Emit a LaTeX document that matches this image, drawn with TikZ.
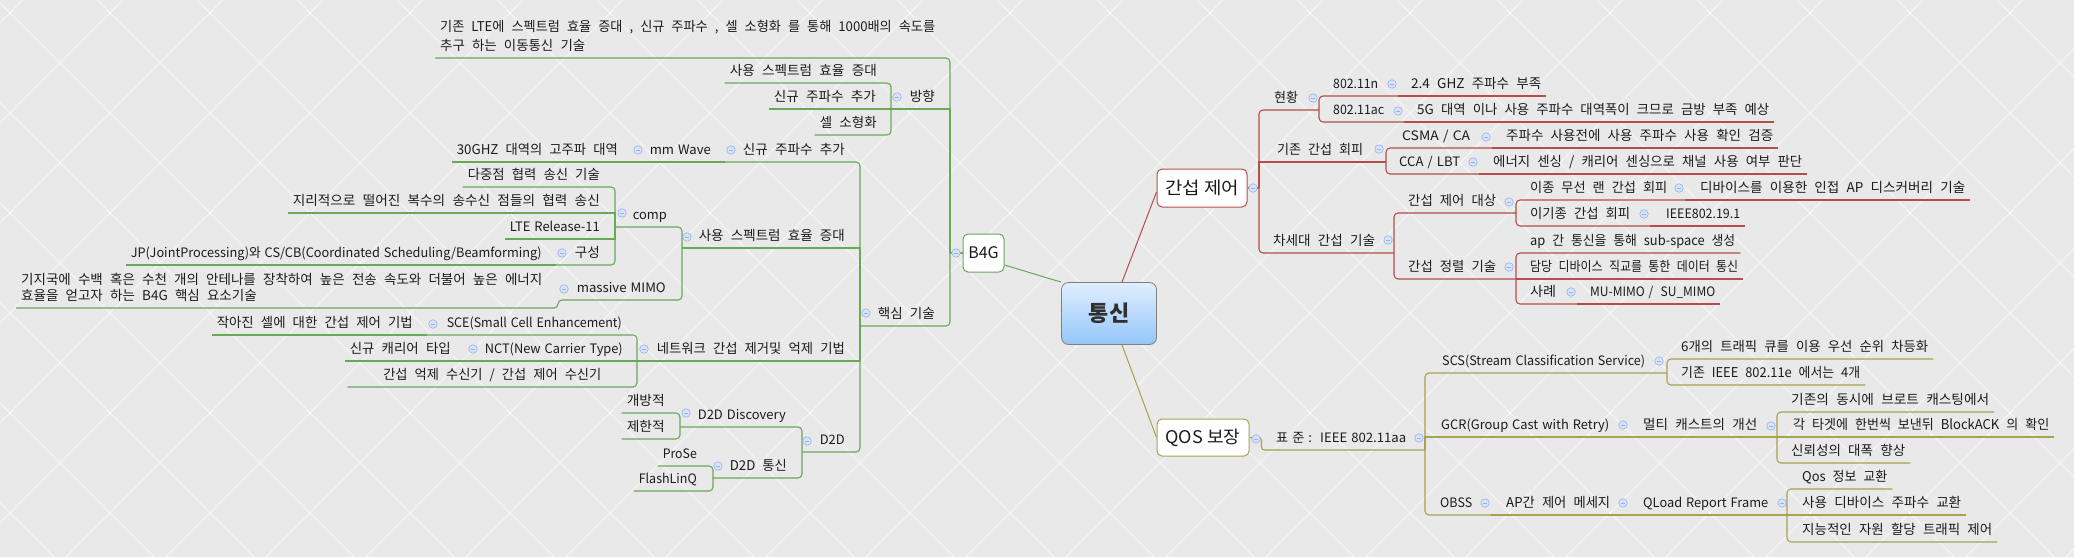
\documentclass[tikz,border=0pt]{standalone}
\usepackage{fontspec}
\usepackage{graphicx}
\setmainfont{Noto Sans CJK KR}
\usetikzlibrary{calc}
\definecolor{cg}{RGB}{104,168,88}
\definecolor{cr}{RGB}{180,78,74}
\definecolor{co}{RGB}{168,162,78}
\definecolor{bgc}{RGB}{233,233,233}
\definecolor{tgf}{RGB}{214,227,250}
\definecolor{tgd}{RGB}{150,178,230}
\definecolor{txt}{RGB}{28,28,28}
\tikzset{
  tx/.style={font=\fontsize{13.5}{19}\selectfont, execute at begin node={\spaceskip=7.2pt\relax}, text=txt, inner xsep=5pt, inner ysep=3.5pt, text height=11pt, text depth=3.5pt},
  lat/.style={font=\fontsize{13}{19}\selectfont, execute at begin node={\spaceskip=4pt\relax}},
  lt/.style={tx, anchor=south east},
  rt/.style={tx, anchor=south west},
  tg/.style={circle, minimum size=8.5pt, inner sep=0pt, fill=tgf, draw=tgd, line width=0.6pt,
    path picture={\draw[tgd, line width=0.8pt] ([xshift=-2pt]path picture bounding box.center) -- ([xshift=2pt]path picture bounding box.center);}},
  cG/.style={draw=cg, line width=1.1pt, rounded corners=4pt},
  cR/.style={draw=cr, line width=1.1pt, rounded corners=4pt},
  cO/.style={draw=co, line width=1.1pt, rounded corners=4pt},
  mainbox/.style={rounded corners=5pt, fill=white, line width=1pt, text=txt},
}
% left/right topic: [style]{name}{x}{y of underline}{text width}{text}
\newcommand\mkL[6][]{\node[lt,#1] (#2) at (#3,#4) {\resizebox{#5pt}{\height}{#6}};}
\newcommand\mkR[6][]{\node[rt,#1] (#2) at (#3,#4) {\resizebox{#5pt}{\height}{#6}};}
\newcommand\mkT[3]{\node[tg] (#1) at (#2,#3) {};}
\newcommand\toL[3]{\draw[#1] (#2) -- (#2 |- #3.south) -- (#3.south west);}
\newcommand\toR[3]{\draw[#1] (#2) -- (#2 |- #3.south) -- (#3.south east);}
\newcommand\toP[3]{\draw[#1] (#2) -- (#2 |- #3) -- (#3);}
\begin{document}
\begin{tikzpicture}[x=1pt,y=-1pt]
\useasboundingbox (0,0) rectangle (2074,557);
% background
\fill[bgc] (0,0) rectangle (2074,557);
\begin{scope}
\clip (0,0) rectangle (2074,557);
\foreach \c in {-503,-403,...,2097} \draw[white, opacity=0.65, line width=0.8pt] (\c,0) -- ++(557,557);
\foreach \c in {23,123,...,2623} \draw[white, opacity=0.65, line width=0.8pt] (\c,0) -- ++(-557,557);
\end{scope}

% main topics
\node[rounded corners=7pt, draw={rgb,255:red,128;green,128;blue,128}, line width=0.8pt,
  top color={rgb,255:red,224;green,239;blue,254}, bottom color={rgb,255:red,148;green,198;blue,250},
  minimum width=95pt, minimum height=62pt, font=\fontsize{22}{26}\selectfont\bfseries,
  text={rgb,255:red,48;green,48;blue,48}] (root) at (1109,313.5) {통신};
\node[mainbox, draw=cg, minimum width=41pt, minimum height=38pt, inner sep=1pt, font=\fontsize{16}{18}\selectfont] (b4g) at (983.5,253) {B4G};
\node[mainbox, draw=cr, minimum width=90pt, minimum height=38pt, inner sep=1pt, font=\fontsize{17.5}{20}\selectfont] (gc) at (1202,188) {\resizebox{74pt}{\height}{간섭 제어}};
\node[mainbox, draw=co, minimum width=92pt, minimum height=37pt, inner sep=1pt, font=\fontsize{17.5}{20}\selectfont] (qos) at (1203,437.5) {\resizebox{75pt}{\height}{QOS 보장}};

% ---------------- left (B4G) ----------------
\coordinate (b4gp) at (950,253);
\node[tx, anchor=south west, align=left, text height=] (lte) at (435,58)
  {\resizebox{495pt}{\height}{기존 LTE에 스펙트럼 효율 증대 , 신규 주파수 , 셀 소형화 를 통해 1000배의 속도를}\\\resizebox{145pt}{\height}{추구 하는 이동통신 기술}};
\mkL{bang}{940}{109}{25}{방향}
\coordinate (bangp) at (891,109);
\mkL{b1}{882}{83}{147}{사용 스펙트럼 효율 증대}
\mkL{b2}{881}{109}{102}{신규 주파수 추가}
\mkL{b3}{882}{135}{57}{셀 소형화}
\mkL{core}{940}{326}{57}{핵심 기술}
\coordinate (corep) at (860,326);
\mkL{c1}{850}{162}{102}{신규 주파수 추가}
\coordinate (c1p) at (725,162);
\mkL[lat]{mmw}{716}{162}{61}{mm Wave}
\coordinate (mmwp) at (632,162);
\mkL{ghz}{623}{162}{161}{30GHZ 대역의 고주파 대역}
\mkL{c2}{850}{248}{146}{사용 스펙트럼 효율 증대}
\coordinate (c2p) at (682,248);
\mkL[lat]{comp}{672}{227}{34}{comp}
\coordinate (compp) at (615,227);
\mkL{k1}{605}{187}{132}{다중점 협력 송신 기술}
\mkL{k2}{605}{213}{307}{지리적으로 떨어진 복수의 송수신 점들의 협력 송신}
\mkL[lat]{k3}{605}{239}{90}{LTE Release-11}
\mkL{k4}{605}{265}{25}{구성}
\coordinate (k4p) at (556,265);
\mkL[lat]{jp}{547}{265}{411}{JP(JointProcessing)와 CS/CB(Coordinated Scheduling/Beamforming)}
\mkL[lat]{mimo}{671}{300}{89}{massive MIMO}
\coordinate (mimop) at (558,300);
\node[tx, anchor=south west, align=left, text height=, font=\fontsize{13.5}{16}\selectfont] (mmt) at (16,308)
  {기지국에 수백 혹은 수천 개의 안테나를 장착하여 높은 전송 속도와 더불어 높은 에너지\\효율을 얻고자 하는 B4G 핵심 요소기술};
\mkL{c3}{850}{361}{188}{네트워크 간섭 제거및 억제 기법}
\coordinate (c3p) at (637,361);
\mkL[lat]{sce}{627}{335}{175}{SCE(Small Cell Enhancement)}
\coordinate (scep) at (427,335);
\mkL{scec}{418}{335}{196}{작아진 셀에 대한 간섭 제어 기법}
\mkL[lat]{nct}{628}{361}{138}{NCT(New Carrier Type)}
\coordinate (nctp) at (467,361);
\mkL{nctc}{456}{361}{101}{신규 캐리어 타입}
\node[lt, minimum width=289pt, align=center] (itf) at (637,387) {\resizebox{218pt}{\height}{간섭 억제 수신기 / 간섭 제어 수신기}};
\mkL[lat]{d2d}{850}{452}{25}{D2D}
\coordinate (d2dp) at (802,452);
\mkL[lat]{dsc}{791}{427}{88}{D2D Discovery}
\coordinate (dscp) at (680,427);
\mkL{op}{670}{413}{38}{개방적}
\mkL{rs}{670}{439}{38}{제한적}
\mkL{dcm}{792}{478}{57}{D2D 통신}
\coordinate (dcmp) at (713,478);
\mkL[lat]{ps}{702}{466}{34}{ProSe}
\mkL[lat]{fl}{702}{491}{58}{FlashLinQ}

% ---------------- right (간섭 제어) ----------------
\coordinate (gcp) at (1259,188);
\mkR{hy}{1269}{110}{24}{현황}
\coordinate (hyp) at (1319,110);
\mkR[lat]{n11}{1328}{96}{45}{802.11n}
\coordinate (n11p) at (1398,96);
\mkR{n11c}{1406}{96}{130}{2.4 GHZ\ 주파수 부족}
\mkR[lat]{ac}{1328}{122}{51}{802.11ac}
\coordinate (acp) at (1404,122);
\mkR{acc}{1412}{122}{352}{5G 대역 이나 사용 주파수 대역폭이 크므로 금방 부족 예상}
\mkR{gz}{1272}{162}{86}{기존 간섭 회피}
\coordinate (gzp) at (1386,162);
\mkR[lat]{cs}{1397}{148}{68}{CSMA / CA}
\coordinate (csp) at (1492,148);
\mkR{csc}{1501}{148}{267}{주파수 사용전에 사용 주파수 사용 확인 검증}
\mkR[lat]{cc}{1394}{174}{61}{CCA / LBT}
\coordinate (ccp) at (1479,174);
\mkR{ccc}{1488}{174}{309}{에너지 센싱 / 캐리어 센싱으로 채널 사용 여부 판단}
\mkR{nx}{1268}{253}{102}{차세대 간섭 기술}
\coordinate (nxp) at (1394,253);
\mkR{dt}{1403}{213}{88}{간섭 제어 대상}
\coordinate (dtp) at (1516,213);
\mkR{ij}{1525}{200}{137}{이종 무선 랜 간섭 회피}
\coordinate (ijp) at (1685,200);
\mkR{ijc}{1695}{200}{265}{디바이스를 이용한 인접 AP 디스커버리 기술}
\mkR{ig}{1525}{226}{100}{이기종 간섭 회피}
\coordinate (igp) at (1650,226);
\mkR[lat]{igc}{1661}{226}{74}{IEEE802.19.1}
\mkR{al}{1403}{279}{88}{간섭 정렬 기술}
\coordinate (alp) at (1516,279);
\mkR{apn}{1525}{253}{205}{ap 간 통신을 통해 sub-space 생성}
\mkR{dd}{1525}{279}{208}{담당 디바이스 직교를 통한 데이터 통신}
\mkR{sr}{1525}{304}{26}{사례}
\coordinate (srp) at (1577,304);
\mkR[lat]{src}{1585}{304}{125}{MU-MIMO /\ \ SU\_MIMO}

% ---------------- right (QOS) ----------------
\coordinate (qosp) at ($(qos.east)+(12,0)$);
\mkR[lat]{std}{1271}{450}{130}{표 준 :\ \ IEEE 802.11aa}
\coordinate (stdp) at (1425,450);
\mkR[lat]{scs}{1437}{373}{203}{SCS(Stream Classification Service)}
\coordinate (scsp) at (1667,373);
\mkR{q6}{1676}{359}{247}{6개의 트래픽 큐를 이용 우선 순위 차등화}
\mkR{q4}{1676}{385}{179}{기존\ IEEE 802.11e 에서는 4개}
\mkR[lat]{gcr}{1436}{437}{168}{GCR(Group Cast with Retry)}
\coordinate (gcrp) at (1630,437);
\mkR{mc}{1638}{437}{114}{멀티 캐스트의 개선}
\coordinate (mcp) at (1777,437);
\mkR{m1}{1786}{412}{198}{기존의 동시에 브로트 캐스팅에서}
\mkR{m2}{1788}{437}{256}{각 타겟에 한번씩 보낸뒤 BlockACK 의 확인}
\mkR{m3}{1786}{463}{114}{신뢰성의 대폭 향상}
\mkR[lat]{ob}{1435}{515}{32}{OBSS}
\coordinate (obp) at (1491,515);
\mkR{apc}{1501}{515}{104}{AP간 제어 메세지}
\coordinate (apcp) at (1629,515);
\mkR[lat]{ql}{1638}{515}{125}{QLoad Report Frame}
\coordinate (qlp) at (1787,515);
\mkR{o1}{1797}{489}{85}{Qos 정보 교환}
\mkR{o2}{1797}{515}{159}{사용 디바이스 주파수 교환}
\mkR{o3}{1797}{542}{190}{지능적인 자원 할당 트래픽 제어}

% ---------------- connectors: root ----------------
\draw[draw=cg, line width=1pt] ([yshift=-12pt]b4g.east) -- (root.north west);
\draw[draw=cr, line width=1pt] ([xshift=13pt]root.north) -- ([yshift=-4pt]gc.west);
\draw[draw=co, line width=1pt] ([xshift=13pt]root.south) -- (qos.west);

% ---------------- connectors: green ----------------
\draw[cG] (b4g.west) -- (b4gp);
\toL{cG}{b4gp}{lte}
\toP{cG,sharp corners}{b4gp}{bangp}
\toP{cG}{b4gp}{corep}
\toL{cG}{bangp}{b1}
\toL{cG,sharp corners}{bangp}{b2}
\toL{cG}{bangp}{b3}
\toP{cG}{corep}{c1p}
\toP{cG,sharp corners}{corep}{c2p}
\toP{cG,sharp corners}{corep}{c3p}
\toP{cG}{corep}{d2dp}
\draw[cG] (c1p) -- (mmwp);
\draw[cG] (mmwp) -- (ghz.south west);
\toP{cG}{c2p}{compp}
\draw[cG] (c2p) -- (c2p |- mimop) -- (mimop) -- (mimop |- mmt.south) -- (mmt.south west);
\toL{cG}{compp}{k1}
\toL{cG,sharp corners}{compp}{k2}
\toL{cG,sharp corners}{compp}{k3}
\toP{cG}{compp}{k4p}
\draw[cG] (k4p) -- (jp.south west);
\toP{cG}{c3p}{scep}
\toP{cG,sharp corners}{c3p}{nctp}
\toL{cG}{c3p}{itf}
\draw[cG] (scep) -- (scec.south west);
\draw[cG] (nctp) -- (nctc.south west);
\toP{cG}{d2dp}{dscp}
\toP{cG}{d2dp}{dcmp}
\toL{cG}{dscp}{op}
\toL{cG}{dscp}{rs}
\toL{cG}{dcmp}{ps}
\toL{cG}{dcmp}{fl}

% ---------------- connectors: red ----------------
\draw[cR] (gc.east) -- (gcp);
\toP{cR}{gcp}{hyp}
\toP{cR,sharp corners}{gcp}{gzp}
\toP{cR}{gcp}{nxp}
\toP{cR}{hyp}{n11p}
\toP{cR}{hyp}{acp}
\draw[cR] (n11p) -- (n11c.south east);
\draw[cR] (acp) -- (acc.south east);
\toP{cR}{gzp}{csp}
\toP{cR}{gzp}{ccp}
\draw[cR] (csp) -- (csc.south east);
\draw[cR] (ccp) -- (ccc.south east);
\toP{cR}{nxp}{dtp}
\toP{cR}{nxp}{alp}
\toP{cR}{dtp}{ijp}
\toP{cR}{dtp}{igp}
\draw[cR] (ijp) -- (ijc.south east);
\draw[cR] (igp) -- (igc.south east);
\toR{cR}{alp}{apn}
\toR{cR,sharp corners}{alp}{dd}
\toP{cR}{alp}{srp}
\draw[cR] (srp) -- (src.south east);

% ---------------- connectors: olive ----------------
\draw[cO, rounded corners=3pt] (qos.east) -- (qosp) -- (qosp |- stdp) -- (stdp);
\toP{cO}{stdp}{scsp}
\toP{cO,sharp corners}{stdp}{gcrp}
\toP{cO}{stdp}{obp}
\toR{cO}{scsp}{q6}
\toR{cO}{scsp}{q4}
\draw[cO] (gcrp) -- (mcp);
\toR{cO}{mcp}{m1}
\toR{cO,sharp corners}{mcp}{m2}
\toR{cO}{mcp}{m3}
\draw[cO] (obp) -- (apcp);
\draw[cO] (apcp) -- (qlp);
\toR{cO}{qlp}{o1}
\toR{cO,sharp corners}{qlp}{o2}
\toR{cO}{qlp}{o3}

% ---------------- toggles ----------------
\mkT{t0}{956}{253}
\mkT{t1}{1253}{188}
\mkT{t2}{1256}{439}
\mkT{t3}{897}{97}
\mkT{t4}{866}{313}
\mkT{t5}{731}{150}
\mkT{t6}{638}{150}
\mkT{t7}{687}{237}
\mkT{t8}{622}{213}
\mkT{t9}{562}{253}
\mkT{t10}{564}{289}
\mkT{t11}{644}{349}
\mkT{t12}{433}{324}
\mkT{t13}{473}{349}
\mkT{t14}{807}{441}
\mkT{t15}{686}{413}
\mkT{t16}{718}{466}
\mkT{t17}{1313}{98}
\mkT{t18}{1392}{84}
\mkT{t19}{1398}{111}
\mkT{t20}{1379}{149}
\mkT{t21}{1486}{137}
\mkT{t22}{1473}{162}
\mkT{t23}{1388}{240}
\mkT{t24}{1509}{202}
\mkT{t25}{1679}{188}
\mkT{t26}{1644}{214}
\mkT{t27}{1509}{267}
\mkT{t28}{1571}{292}
\mkT{t29}{1419}{438}
\mkT{t30}{1659}{361}
\mkT{t31}{1623}{425}
\mkT{t32}{1771}{426}
\mkT{t33}{1485}{503}
\mkT{t34}{1623}{503}
\mkT{t35}{1782}{503}
\end{tikzpicture}
\end{document}
